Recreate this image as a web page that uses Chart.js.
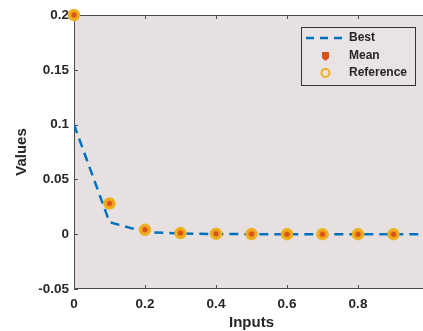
<!DOCTYPE html>
<html>
<head>
<meta charset="utf-8">
<script src="https://cdn.jsdelivr.net/npm/chart.js@4"></script>
<style>
  html, body { margin: 0; padding: 0; background: #fff; overflow: hidden; }
  #wrap { width: 440px; height: 331px; }
</style>
</head>
<body>
<div id="wrap"><canvas id="valuesChart"></canvas></div>
<script>
// data
var bestX = [0, 0.1, 0.2, 0.3, 0.4, 0.5, 0.6, 0.7, 0.8, 0.9, 1];
var bestY = [0.1, 0.011, 0.002, 0.0006, 0.0002, 0, 0, 0, 0, 0, 0];
var pointX = [0, 0.1, 0.2, 0.3, 0.4, 0.5, 0.6, 0.7, 0.8, 0.9];
var meanY = [0.2, 0.028, 0.004, 0.001, 0.0003, 0.0001, 0, 0, 0, 0];
var refY = [0.2, 0.028, 0.004, 0.001, 0.0003, 0.0001, 0, 0, 0, 0];
var xTicks = [0, 0.2, 0.4, 0.6, 0.8, 1];
var yTicks = [-0.05, 0, 0.05, 0.1, 0.15, 0.2];

function pairs(xs, ys) {
  return xs.map(function (x, i) { return { x: x, y: ys[i] }; });
}

var textColor = '#262626';
var axisColor = '#4d4d4d';
var fontFamily = '"Liberation Sans", Arial, sans-serif';

var axesBox = {
  id: 'axesBox',
  beforeDraw: function (chart) {
    var a = chart.chartArea, ctx = chart.ctx;
    ctx.save();
    ctx.fillStyle = '#e7e0e0';
    ctx.fillRect(a.left, a.top, a.right - a.left, a.bottom - a.top);
    ctx.restore();
  },
  beforeDatasetsDraw: function (chart) {
    var a = chart.chartArea, ctx = chart.ctx;
    var xs = chart.scales.x, ys = chart.scales.y;
    ctx.save();
    ctx.strokeStyle = axisColor;
    ctx.lineWidth = 1;
    ctx.strokeRect(a.left + 0.5, a.top + 0.5, a.right - a.left - 1, a.bottom - a.top - 1);
    ctx.beginPath();
    xTicks.forEach(function (v) {
      var px = Math.round(xs.getPixelForValue(v)) + 0.5;
      ctx.moveTo(px, a.bottom); ctx.lineTo(px, a.bottom - 4);
      ctx.moveTo(px, a.top); ctx.lineTo(px, a.top + 4);
    });
    yTicks.forEach(function (v) {
      var py = Math.round(ys.getPixelForValue(v)) + 0.5;
      ctx.moveTo(a.left, py); ctx.lineTo(a.left + 4, py);
      ctx.moveTo(a.right, py); ctx.lineTo(a.right - 4, py);
    });
    ctx.stroke();
    ctx.restore();
  },
  afterDraw: function (chart) {
    var ctx = chart.ctx;
    var bx = 301, by = 27, bw = 114, bh = 58;
    ctx.save();
    ctx.fillStyle = '#e9e3e3';
    ctx.fillRect(bx, by, bw, bh);
    ctx.strokeStyle = '#333';
    ctx.lineWidth = 1;
    ctx.strokeRect(bx + 0.5, by + 0.5, bw, bh);

    // Best
    ctx.strokeStyle = '#0072BD';
    ctx.lineWidth = 2.5;
    ctx.setLineDash([8, 6]);
    ctx.beginPath();
    ctx.moveTo(306, 38); ctx.lineTo(346, 38);
    ctx.stroke();
    ctx.setLineDash([]);

    // Mean
    ctx.fillStyle = '#D95319';
    ctx.fillRect(322, 52, 7, 6);
    ctx.beginPath();
    ctx.moveTo(322, 58); ctx.lineTo(329, 58); ctx.lineTo(325.5, 61);
    ctx.closePath();
    ctx.fill();

    // Reference
    ctx.strokeStyle = '#EDB120';
    ctx.lineWidth = 2;
    ctx.beginPath();
    ctx.arc(325.5, 73, 4, 0, Math.PI * 2);
    ctx.stroke();

    ctx.fillStyle = textColor;
    ctx.font = 'bold 12px ' + fontFamily;
    ctx.textBaseline = 'middle';
    ctx.textAlign = 'left';
    ctx.fillText('Best', 349, 38);
    ctx.fillText('Mean', 349, 56);
    ctx.fillText('Reference', 349, 73);
    ctx.restore();
  }
};

var ctx = document.getElementById('valuesChart').getContext('2d');
var valuesChart = new Chart(ctx, {
  type: 'scatter',
  data: {
    datasets: [
      {
        label: 'Mean',
        data: pairs(pointX, meanY),
        pointRadius: 2.5,
        pointBackgroundColor: '#D95319',
        pointBorderWidth: 0,
        showLine: false,
        clip: false,
        order: 0
      },
      {
        label: 'Reference',
        data: pairs(pointX, refY),
        pointRadius: 5,
        pointBackgroundColor: '#EF9A1E',
        pointBorderColor: '#EDB120',
        pointBorderWidth: 2.5,
        showLine: false,
        clip: false,
        order: 1
      },
      {
        label: 'Best',
        data: pairs(bestX, bestY),
        showLine: true,
        borderColor: '#0072BD',
        borderWidth: 2.5,
        borderDash: [9, 6],
        pointRadius: 0,
        tension: 0,
        order: 2
      }
    ]
  },
  options: {
    responsive: true,
    maintainAspectRatio: false,
    animation: false,
    layout: { padding: { top: 15, right: 11, left: 0, bottom: 0 } },
    plugins: {
      legend: { display: false },
      tooltip: { enabled: false }
    },
    scales: {
      x: {
        type: 'linear',
        min: 0,
        max: 1,
        afterFit: function (s) { s.height = 42; },
        afterBuildTicks: function (s) { s.ticks = xTicks.map(function (v) { return { value: v }; }); },
        grid: { display: false, drawTicks: false },
        border: { display: false },
        ticks: {
          padding: 7,
          color: textColor,
          font: { family: fontFamily, size: 13.5, weight: 'bold' },
          callback: function (v) { return String(Math.round(v * 100) / 100); }
        },
        title: {
          display: true,
          text: 'Inputs',
          color: textColor,
          padding: { top: 0, bottom: -1 },
          font: { family: fontFamily, size: 15, weight: 'bold' }
        }
      },
      y: {
        type: 'linear',
        min: -0.05,
        max: 0.2,
        afterFit: function (s) { s.width = 74; },
        afterBuildTicks: function (s) { s.ticks = yTicks.map(function (v) { return { value: v }; }); },
        grid: { display: false, drawTicks: false },
        border: { display: false },
        ticks: {
          padding: 5,
          color: textColor,
          font: { family: fontFamily, size: 13.5, weight: 'bold' },
          callback: function (v) { return String(Math.round(v * 100) / 100); }
        },
        title: {
          display: true,
          text: 'Values',
          color: textColor,
          padding: { top: 13, bottom: 0 },
          font: { family: fontFamily, size: 15, weight: 'bold' }
        }
      }
    }
  },
  plugins: [axesBox]
});
</script>
</body>
</html>
